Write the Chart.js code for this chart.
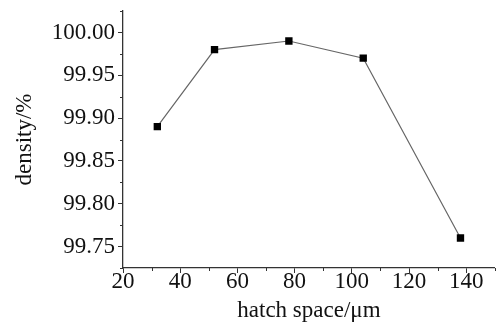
<!DOCTYPE html>
<html>
<head>
<meta charset="utf-8">
<script src="https://cdn.jsdelivr.net/npm/chart.js@4.4.1/dist/chart.umd.min.js"></script>
<style>
html,body{margin:0;padding:0;background:#fff;}
#wrap{width:500px;height:322px;position:relative;}
</style>
</head>
<body>
<div id="wrap"><canvas id="c" width="500" height="322"></canvas></div>
<script>
const hatchSpace = [32, 52, 78, 104, 138];
const density = [99.89, 99.98, 99.99, 99.97, 99.76];
const xTicks = [20, 40, 60, 80, 100, 120, 140];
const xMinorTicks = [30, 50, 70, 90, 110, 130, 150];
const yTicks = [99.75, 99.80, 99.85, 99.90, 99.95, 100.00];
const yMinorTicks = [99.725, 99.775, 99.825, 99.875, 99.925, 99.975, 100.025];

const FONT = "'Liberation Serif', 'Times New Roman', serif";

const minorTicksPlugin = {
  id: 'minorTicks',
  afterDraw(chart) {
    const ctx = chart.ctx;
    const xs = chart.scales.x, ys = chart.scales.y;
    ctx.save();
    ctx.strokeStyle = '#333';
    ctx.lineWidth = 1;
    ctx.beginPath();
    xMinorTicks.forEach(v => {
      const px = Math.round(xs.getPixelForValue(v)) + 0.5;
      ctx.moveTo(px, ys.bottom);
      ctx.lineTo(px, ys.bottom + 3);
    });
    yMinorTicks.forEach(v => {
      const py = Math.round(ys.getPixelForValue(v)) + 0.5;
      ctx.moveTo(xs.left, py);
      ctx.lineTo(xs.left - 3, py);
    });
    ctx.stroke();
    ctx.restore();
  }
};

new Chart(document.getElementById('c'), {
  type: 'scatter',
  data: {
    datasets: [{
      data: hatchSpace.map((x, i) => ({x: x, y: density[i]})),
      showLine: true,
      borderColor: '#666',
      borderWidth: 1.2,
      backgroundColor: '#000',
      pointBackgroundColor: '#000',
      pointBorderColor: '#000',
      pointBorderWidth: 0,
      pointStyle: 'rect',
      pointRadius: 5.2,
      pointHoverRadius: 5.2,
      tension: 0
    }]
  },
  options: {
    responsive: false,
    animation: false,
    devicePixelRatio: 1,
    layout: {padding: {top: 9, right: 5, left: 0, bottom: 0}},
    plugins: {legend: {display: false}, tooltip: {enabled: false}},
    scales: {
      x: {
        type: 'linear',
        min: 20, max: 150,
        afterBuildTicks: s => { s.ticks = xTicks.map(v => ({value: v})); },
        afterFit: s => { s.height = 54; },
        border: {display: true, color: '#333', width: 1.3},
        grid: {drawOnChartArea: false, drawTicks: true, tickLength: 5, tickColor: '#333'},
        ticks: {
          color: '#111', padding: -3, maxRotation: 0, autoSkip: false,
          font: {family: FONT, size: 23, lineHeight: 1.0},
          callback: v => String(v)
        },
        title: {
          display: true, text: 'hatch space/μm', color: '#111',
          font: {family: FONT, size: 23, lineHeight: 1.0}, padding: {top: 0, bottom: 0}
        }
      },
      y: {
        type: 'linear',
        min: 99.725, max: 100.025,
        afterBuildTicks: s => { s.ticks = yTicks.map(v => ({value: v})); },
        afterFit: s => { s.width = 123; },
        border: {display: true, color: '#333', width: 1.3},
        grid: {drawOnChartArea: false, drawTicks: true, tickLength: 5, tickColor: '#333'},
        ticks: {
          color: '#111', padding: 3, autoSkip: false,
          font: {family: FONT, size: 23, lineHeight: 0.7},
          callback: v => Number(v).toFixed(2)
        },
        title: {
          display: true, text: 'density/%', color: '#111',
          font: {family: FONT, size: 23, lineHeight: 1.0}, padding: {top: 13, bottom: 0}
        }
      }
    }
  },
  plugins: [minorTicksPlugin]
});
</script>
</body>
</html>
